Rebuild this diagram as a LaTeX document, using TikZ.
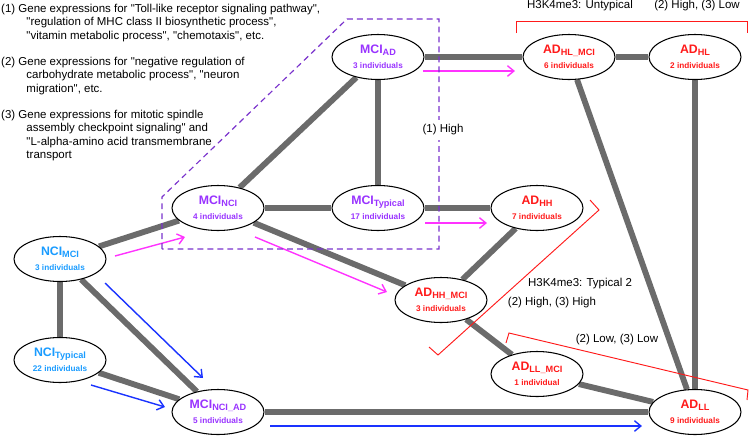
\documentclass[tikz,border=0pt]{standalone}
\usepackage{fontspec}
\setmainfont{Liberation Sans}[Ligatures=TeXOff]
\usetikzlibrary{arrows.meta,shapes.geometric,backgrounds}
\definecolor{ink}{HTML}{000000}
\definecolor{edge}{HTML}{6B6B6B}
\definecolor{mci}{HTML}{9933FF}
\definecolor{nci}{HTML}{1A9CFF}
\definecolor{adc}{HTML}{FF1A1A}
\definecolor{toad}{HTML}{FF33FF}
\definecolor{tomci}{HTML}{1A33FF}
\definecolor{frame}{HTML}{7A33CC}

\newcommand{\grplabel}[3]{{\fontsize{10.5}{12}\selectfont\bfseries #1\raisebox{-.35ex}{\fontsize{7.8}{9}\selectfont #2}}\\[1pt]{\fontsize{7}{8}\selectfont\bfseries #3}}

\begin{document}
\begin{tikzpicture}[
  x=0.03cm, y=-0.03cm,
  grp/.style={ellipse, draw=ink, fill=white, line width=.9pt, inner sep=0pt,
              minimum width=2.76cm, minimum height=1.35cm, align=center, text=#1},
  grp/.default=mci,
  link/.style={draw=edge, line width=5pt},
  ar/.style={-{Straight Barb[length=5.5pt,width=9pt]}, line width=1.2pt},
  arm/.style={ar, draw=toad},
  arb/.style={ar, draw=tomci},
  brk/.style={draw=adc, line width=.8pt},
  frm/.style={draw=frame, line width=1pt, dash pattern=on 5pt off 3.5pt},
  ann/.style={font=\fontsize{9.8}{11.6}\selectfont, inner sep=1pt},
]
\useasboundingbox (0,0) rectangle (750,437);

%% ---------------- gene sets (top left) ----------------
\node[ann, anchor=north west, align=left, inner sep=0pt] (genes) at (1,3.5)
  {(1) Gene expressions for "Toll-like receptor signaling pathway",\\
   \hspace*{2.2em}"regulation of MHC class II biosynthetic process",\\
   \hspace*{2.2em}"vitamin metabolic process", "chemotaxis", etc.\\[10.5pt]
   (2) Gene expressions for "negative regulation of\\
   \hspace*{2.2em}carbohydrate metabolic process", "neuron\\
   \hspace*{2.2em}migration", etc.\\[10.5pt]
   (3) Gene expressions for mitotic spindle\\
   \hspace*{2.2em}assembly checkpoint signaling" and\\
   \hspace*{2.2em}"L-alpha-amino acid transmembrane\\
   \hspace*{2.2em}transport};

%% ---------------- groups ----------------
\node[grp]     (mciAD)  at (378, 57)  {\grplabel{MCI}{AD}{3 individuals}};
\node[grp=adc] (adHLM)  at (569, 57)  {\grplabel{AD}{HL\_MCI}{6 individuals}};
\node[grp=adc] (adHL)   at (695, 57)  {\grplabel{AD}{HL}{2 individuals}};
\node[grp]     (mciNCI) at (218, 208) {\grplabel{MCI}{NCI}{4 individuals}};
\node[grp]     (mciTyp) at (378, 208) {\grplabel{MCI}{Typical}{17 individuals}};
\node[grp=adc] (adHH)   at (537, 208) {\grplabel{AD}{HH}{7 individuals}};
\node[grp=nci] (nciMCI) at (60, 259)  {\grplabel{NCI}{MCI}{3 individuals}};
\node[grp=adc] (adHHM)  at (441, 300) {\grplabel{AD}{HH\_MCI}{3 individuals}};
\node[grp=nci] (nciTyp) at (60, 360)  {\grplabel{NCI}{Typical}{22 individuals}};
\node[grp=adc] (adLLM)  at (537, 374) {\grplabel{AD}{LL\_MCI}{1 individual}};
\node[grp]     (mciNA)  at (218, 412) {\grplabel{MCI}{NCI\_AD}{5 individuals}};
\node[grp=adc] (adLL)   at (695, 412) {\grplabel{AD}{LL}{9 individuals}};

%% ---------------- similarity links ----------------
\begin{scope}[on background layer]
\draw[link] (mciAD) -- (adHLM);
\draw[link] (adHLM) -- (adHL);
\draw[link] (mciAD) -- (mciNCI);
\draw[link] (mciAD) -- (mciTyp);
\draw[link] (mciNCI) -- (mciTyp);
\draw[link] (mciTyp) -- (adHH);
\draw[link] (mciNCI) -- (adHHM);
\draw[link] (nciMCI) -- (mciNCI);
\draw[link] (nciMCI) -- (nciTyp);
\draw[link] (nciMCI) -- (mciNA);
\draw[link] (nciTyp) -- (mciNA);
\draw[link] (mciNA) -- (adLL);
\draw[link] (adHH) -- (adHHM);
\draw[link] (adHHM) -- (adLLM);
\draw[link] (adLLM) -- (adLL);
\draw[link] (adHLM) -- (adLL);
\draw[link] (adHL) -- (adLL);
\end{scope}

%% ---------------- transitions ----------------
\draw[arm] ([shift={(55,-3)}]nciMCI.center) -- ([shift={(-33,29)}]mciNCI.center);
\draw[arm] ([shift={(37,29)}]mciNCI.center) -- ([shift={(-54,-8)}]adHHM.center);
\draw[arm] ([shift={(47,15)}]mciTyp.center) -- ([shift={(-50,15)}]adHH.center);
\draw[arm] ([shift={(45,14)}]mciAD.center)  -- ([shift={(-54,14)}]adHLM.center);
\draw[arb] ([shift={(45,24)}]nciMCI.center) -- ([shift={(-15,-34)}]mciNA.center);
\draw[arb] ([shift={(31,25)}]nciTyp.center) -- ([shift={(-53,-5)}]mciNA.center);
\draw[arb] ([shift={(52,14)}]mciNA.center)  -- ([shift={(-53,14)}]adLL.center);

%% ---------------- MCI frame and H3K4me3 brackets ----------------
\draw[frm] (162,249) -- (162,197) -- (347,19) -- (439,19) -- (439,249) -- cycle;
\node[ann, fill=white, inner ysep=4pt] (high) at (443,130) {(1) High};

\draw[brk] (516,33) -- (516,21) -- (747,21) -- (747,33);
\draw[brk] (590,200) -- (599,210) -- (438,355) -- (429,347);
\draw[brk] (506,343) -- (509,333) -- (748,390) -- (747,400);

\node[ann] (unt) at (580,6)   {H3K4me3: Untypical};
\node[ann] (hl)  at (697,6)   {(2) High, (3) Low};
\node[ann] (ty2) at (580,284) {H3K4me3: Typical 2};
\node[ann] (hh)  at (552,303) {(2) High, (3) High};
\node[ann] (ll)  at (617,340) {(2) Low, (3) Low};

\end{tikzpicture}
\end{document}
